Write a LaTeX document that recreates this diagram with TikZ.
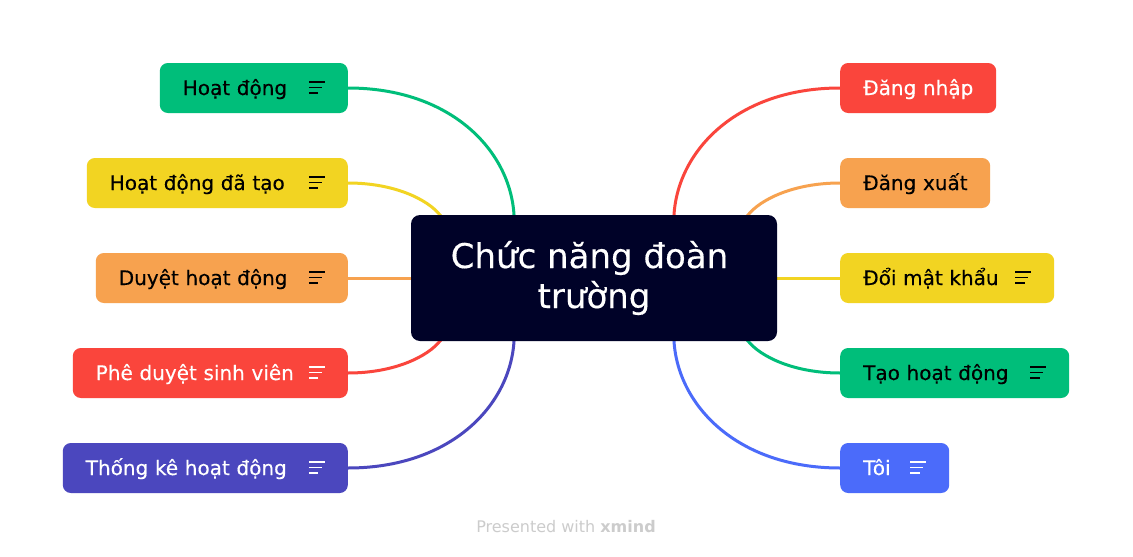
\documentclass[tikz,border=0pt]{standalone}
\usepackage{fontspec}
\setmainfont{DejaVu Sans}[FakeBold=0.35,BoldFont={DejaVu Sans Bold}]
\definecolor{cgreen}{HTML}{00BE7A}
\definecolor{cyellow}{HTML}{F2D422}
\definecolor{corange}{HTML}{F7A24F}
\definecolor{cred}{HTML}{FA453C}
\definecolor{cpurple}{HTML}{4B47BE}
\definecolor{cblue}{HTML}{4B6BFA}
\definecolor{croot}{HTML}{000228}
\definecolor{cfoot}{HTML}{CCCCCC}
\newfontfamily\footfont{DejaVu Sans}
\newcommand\noteicon{\raisebox{1.25pt}{\vbox{\hrule width 16pt height 1.5pt \vskip 4pt \hrule width 13pt height 1.5pt \vskip 4pt \hrule width 9.5pt height 1.5pt}}}
\pgfdeclarelayer{paper}
\pgfdeclarelayer{bg}
\pgfsetlayers{paper,bg,main}
\tikzset{
  topic/.style={rectangle, rounded corners=8pt, minimum height=50pt, inner xsep=23pt, inner ysep=0pt,
    text height=17pt, text depth=3pt, font=\fontsize{20}{24}\selectfont},
  root/.style={rectangle, rounded corners=9pt, fill=croot, minimum width=366pt, minimum height=126pt, inner sep=0pt},
  roottext/.style={text=white, inner sep=0pt, anchor=base, font=\fontsize{34}{40}\selectfont},
  conn/.style={line width=3pt, line cap=rect},
  footer/.style={text=cfoot, inner sep=0pt, anchor=base, font=\footfont\fontsize{16}{19}\selectfont}
}
\begin{document}
\begin{tikzpicture}[x=1pt,y=-1pt]
\begin{pgfonlayer}{paper}
\fill[white] (0,0) rectangle (1133,557);
\end{pgfonlayer}
\useasboundingbox (0,0) rectangle (1133,557);

% root
\node[root] (c) at (594,278) {};
\node[roottext] (ct1) at (589.5,268) {Chức năng đoàn};
\node[roottext] (ct2) at (594,308) {trường};

% left topics
\node[topic, fill=cgreen, text=black, text width=142pt, anchor=east] (l1) at (348,88) {\hbox to\linewidth{Hoạt động\hfill\noteicon}};
\node[topic, fill=cyellow, text=black, text width=215pt, anchor=east] (l2) at (348,183) {\hbox to\linewidth{Hoạt động đã tạo\hfill\noteicon}};
\node[topic, fill=corange, text=black, text width=206pt, anchor=east] (l3) at (348,278) {\hbox to\linewidth{Duyệt hoạt động\hfill\noteicon}};
\node[topic, fill=cred, text=white, text width=229pt, anchor=east] (l4) at (348,373) {\hbox to\linewidth{Phê duyệt sinh viên\hfill\noteicon}};
\node[topic, fill=cpurple, text=white, text width=239pt, anchor=east] (l5) at (348,468) {\hbox to\linewidth{Thống kê hoạt động\hfill\noteicon}};

% right topics
\node[topic, fill=cred, text=white, text width=110pt, anchor=west] (r1) at (840,88) {\hbox to\linewidth{\hfil Đăng nhập\hfil}};
\node[topic, fill=corange, text=black, text width=104pt, anchor=west] (r2) at (840,183) {\hbox to\linewidth{\hfil Đăng xuất\hfil}};
\node[topic, fill=cyellow, text=black, text width=168pt, anchor=west] (r3) at (840,278) {\hbox to\linewidth{Đổi mật khẩu\hfill\noteicon}};
\node[topic, fill=cgreen, text=black, text width=183pt, anchor=west] (r4) at (840,373) {\hbox to\linewidth{Tạo hoạt động\hfill\noteicon}};
\node[topic, fill=cblue, text=white, text width=63pt, anchor=west] (r5) at (840,468) {\hbox to\linewidth{Tôi\hfill\noteicon}};

% connectors
\begin{pgfonlayer}{bg}
\draw[conn, cgreen] (l1.east) .. controls +(102,0) and +(-4,-65) .. ([xshift=-80pt]c.north);
\draw[conn, cyellow] (l2.east) .. controls +(47,0) and +(-12,-15) .. ([xshift=29pt]c.north west);
\draw[conn, corange] (l3.east) -- (c.west);
\draw[conn, cred] (l4.east) .. controls +(47,0) and +(-12,15) .. ([xshift=29pt]c.south west);
\draw[conn, cpurple] (l5.east) .. controls +(102,0) and +(-4,65) .. ([xshift=-80pt]c.south);
\draw[conn, cred] (r1.west) .. controls +(-102,0) and +(4,-65) .. ([xshift=80pt]c.north);
\draw[conn, corange] (r2.west) .. controls +(-47,0) and +(12,-15) .. ([xshift=-29pt]c.north east);
\draw[conn, cyellow] (r3.west) -- (c.east);
\draw[conn, cgreen] (r4.west) .. controls +(-47,0) and +(12,15) .. ([xshift=-29pt]c.south east);
\draw[conn, cblue] (r5.west) .. controls +(-102,0) and +(4,65) .. ([xshift=80pt]c.south);
\end{pgfonlayer}

% footer
\node[footer] (ft) at (566,532) {Presented with \textbf{xmind}};
\end{tikzpicture}
\end{document}
